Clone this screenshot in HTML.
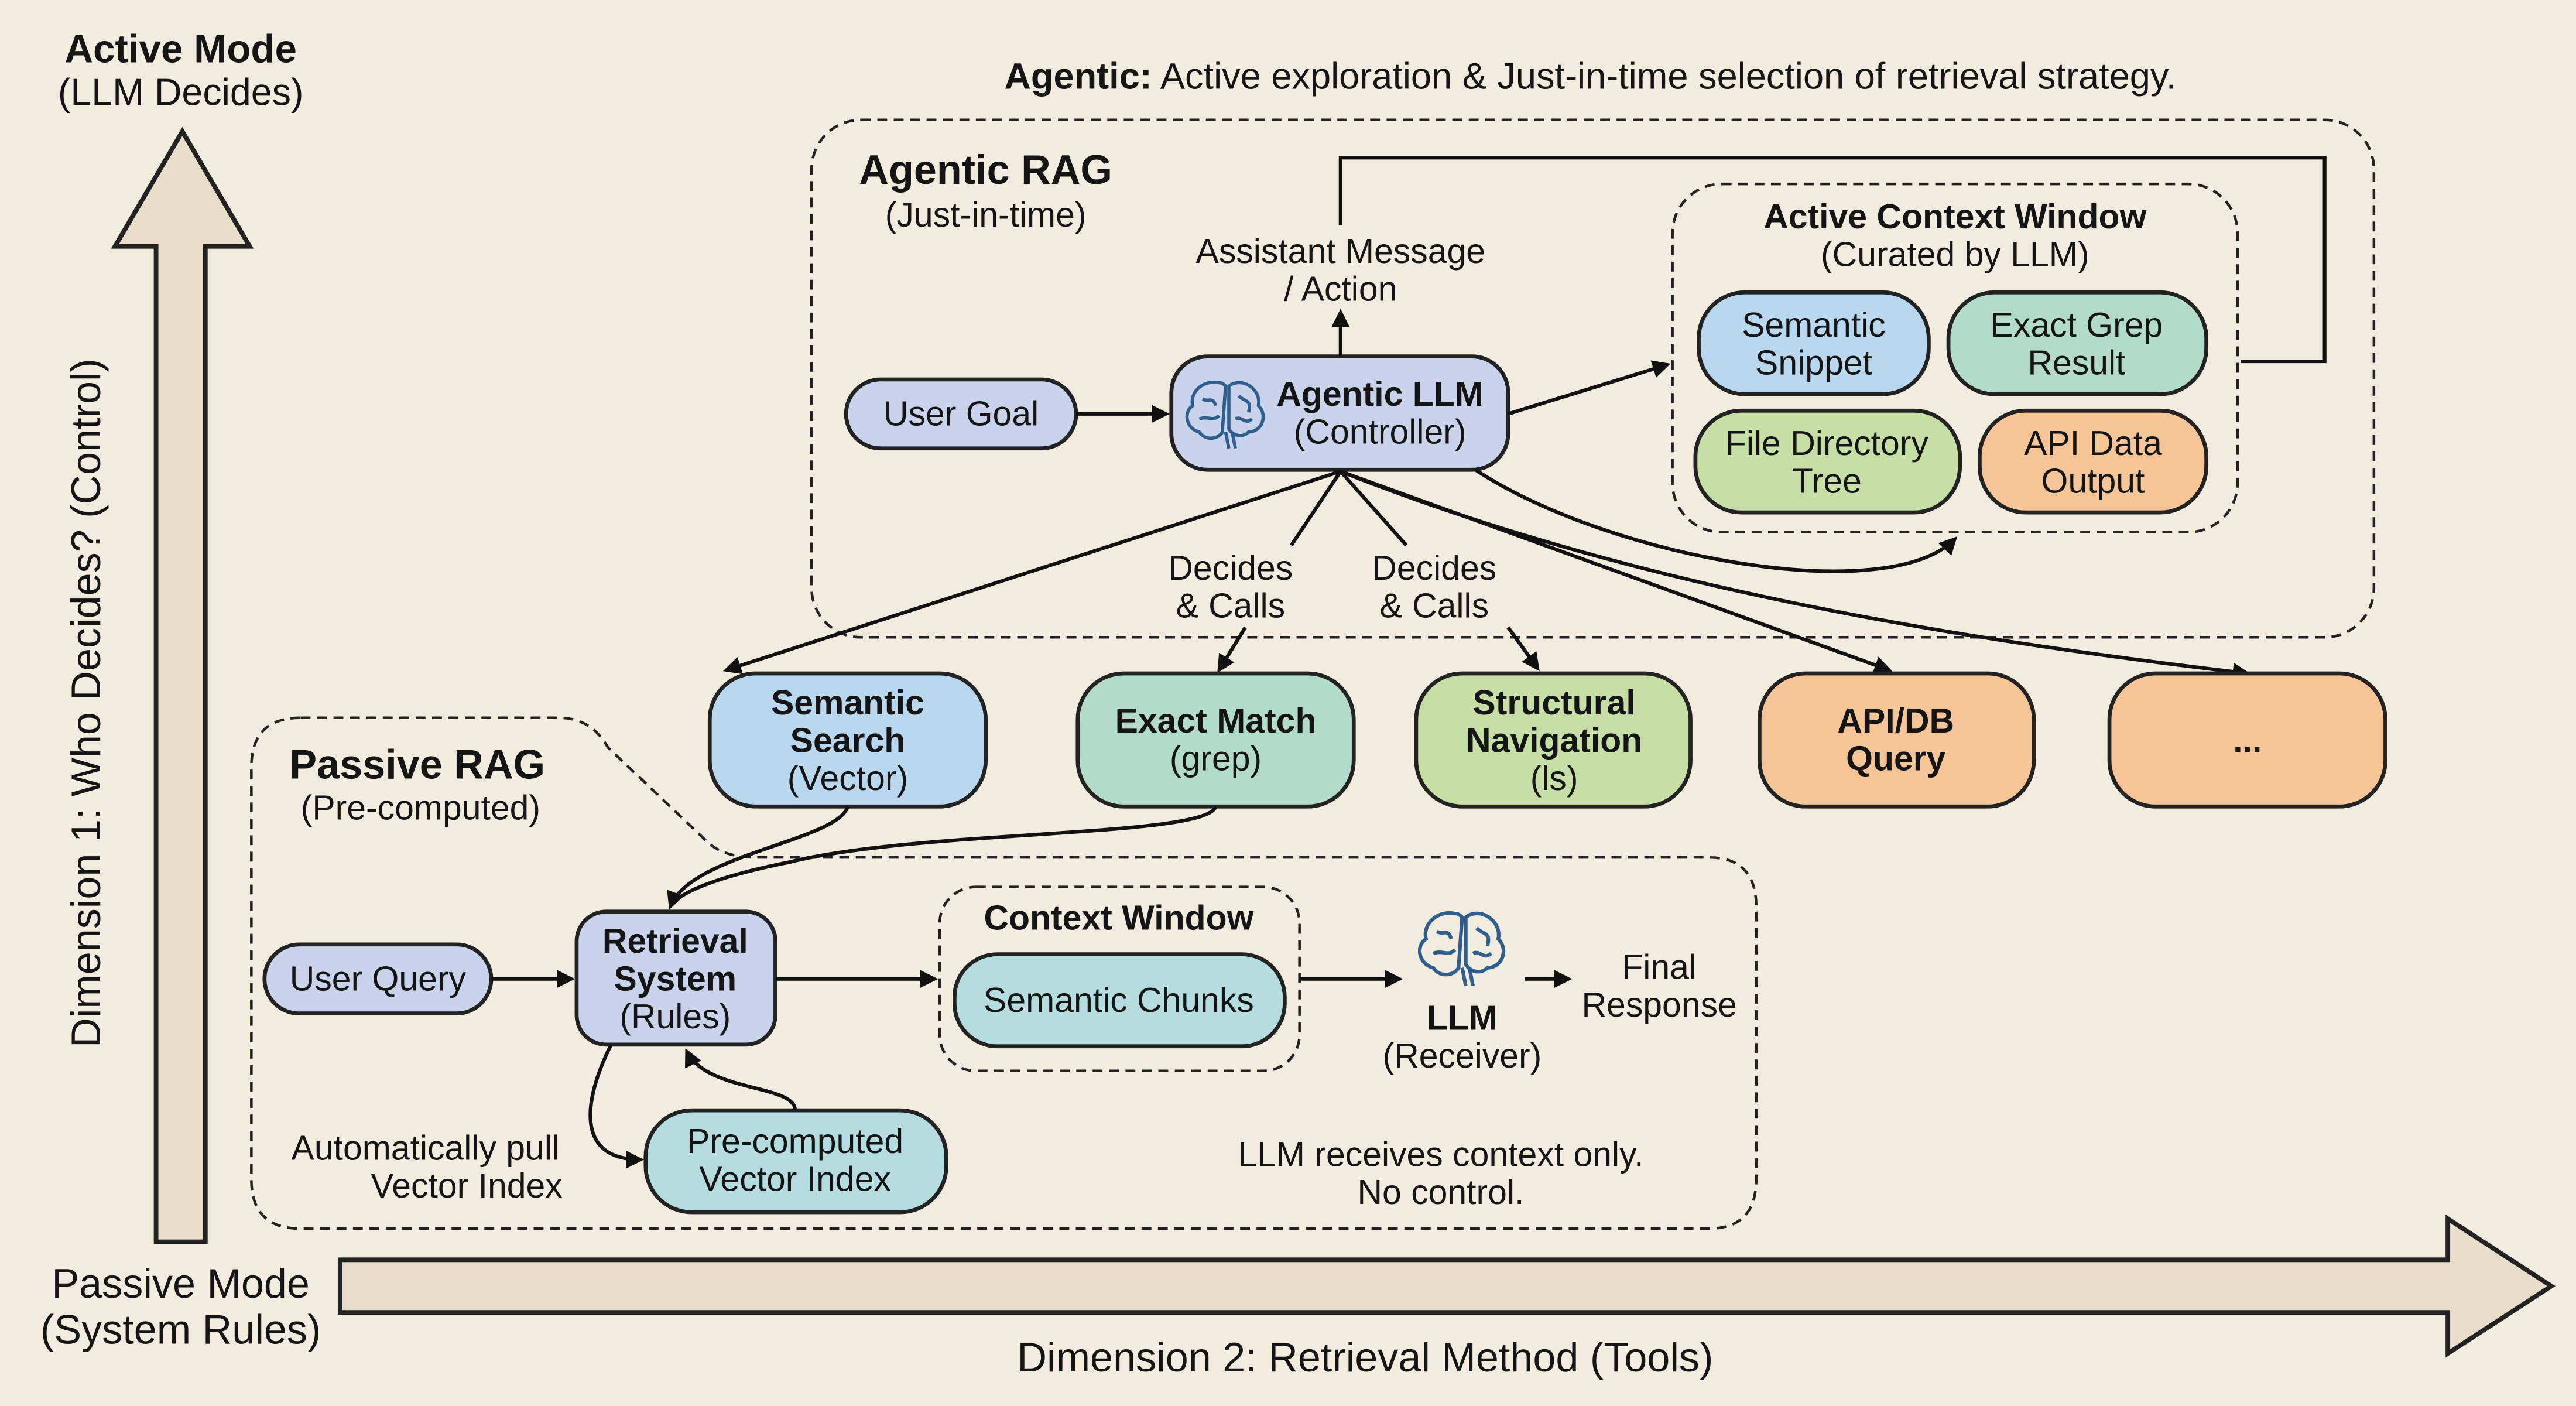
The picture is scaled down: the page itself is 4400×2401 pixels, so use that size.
<!DOCTYPE html>
<html><head><meta charset="utf-8"><style>
html,body{margin:0;padding:0;background:#f2ecde;}
svg{display:block}
text{font-family:"Liberation Sans",Arial,sans-serif;fill:#151515;text-anchor:middle}
.b{font-weight:bold}
.n{stroke:#222;stroke-width:2.4}
.d{fill:none;stroke:#222;stroke-width:1.6;stroke-dasharray:6 4}
.l{fill:none;stroke:#111;stroke-width:2.2}
</style></head><body>
<svg width="4400" height="2401" viewBox="0 0 1568 856" preserveAspectRatio="none" xmlns="http://www.w3.org/2000/svg">
<defs>
<marker id="a" markerWidth="11" markerHeight="11" refX="9" refY="5.5" orient="auto" markerUnits="userSpaceOnUse"><path d="M0,0 L11,5.5 L0,11 z" fill="#111"/></marker>
<g id="brain" fill="none" stroke="#2f5f8f" stroke-width="2">
<path d="M-4,-18 C-14,-20 -22,-12 -20,-4 C-26,0 -24,10 -16,12 C-12,18 -4,16 -2,12 L0,-16 C-2,-18 -3,-18 -4,-18 z"/>
<path d="M2,-16 C10,-22 22,-14 20,-4 C26,2 22,12 14,12 C10,16 4,14 2,10 z"/>
<path d="M0,12 L2,22 M4,12 L6,22"/>
<path d="M-14,-8 C-10,-6 -8,-10 -6,-4 M-16,4 C-10,2 -8,6 -4,2 M8,-10 C12,-6 16,-8 14,0 M6,4 C10,2 12,8 16,4"/>
</g>
</defs>
<rect width="1568" height="856" fill="#f2ecde"/>

<!-- axes -->
<path d="M95,756 L95,150 L70,150 L111,80 L152,150 L125,150 L125,756 z" fill="#e6dec8" stroke="#222" stroke-width="2.8"/>
<path d="M207,767 L1490,767 L1490,742 L1553,783 L1490,824 L1490,799 L207,799 z" fill="#e6dec8" stroke="#222" stroke-width="2.8"/>
<text x="110" y="38" class="b" font-size="24">Active Mode</text>
<text x="110" y="64" font-size="23">(LLM Decides)</text>
<text x="110" y="790" font-size="25">Passive Mode</text>
<text x="110" y="818" font-size="25">(System Rules)</text>
<text x="831" y="835" font-size="25">Dimension 2: Retrieval Method (Tools)</text>
<text transform="translate(61,428) rotate(-90)" font-size="25">Dimension 1: Who Decides? (Control)</text>
<text x="968" y="54" font-size="22.5"><tspan class="b">Agentic:</tspan> Active exploration &amp; Just-in-time selection of retrieval strategy.</text>

<!-- agentic box -->
<rect x="494" y="73" width="951" height="315" rx="30" class="d"/>
<text x="600" y="112" class="b" font-size="25">Agentic RAG</text>
<text x="600" y="138" font-size="21">(Just-in-time)</text>
<rect x="1018" y="112" width="344" height="212" rx="30" class="d"/>
<text x="1190" y="139" class="b" font-size="21">Active Context Window</text>
<text x="1190" y="162" font-size="21">(Curated by LLM)</text>
<rect x="1034" y="178" width="140" height="62" rx="28" fill="#b9d7ef" class="n"/>
<text x="1104" y="205" font-size="21">Semantic</text><text x="1104" y="228" font-size="21">Snippet</text>
<rect x="1186" y="178" width="157" height="62" rx="28" fill="#b3dbc9" class="n"/>
<text x="1264" y="205" font-size="21">Exact Grep</text><text x="1264" y="228" font-size="21">Result</text>
<rect x="1032" y="250" width="161" height="62" rx="28" fill="#c6dfa6" class="n"/>
<text x="1112" y="277" font-size="21">File Directory</text><text x="1112" y="300" font-size="21">Tree</text>
<rect x="1205" y="250" width="138" height="62" rx="28" fill="#f6c597" class="n"/>
<text x="1274" y="277" font-size="21">API Data</text><text x="1274" y="300" font-size="21">Output</text>

<rect x="515" y="231" width="140" height="42" rx="21" fill="#c9d4ec" class="n"/>
<text x="585" y="259" font-size="21">User Goal</text>
<rect x="713" y="217" width="205" height="69" rx="22" fill="#c9d4ec" class="n"/>
<use href="#brain" transform="translate(746,251)"/>
<text x="840" y="247" class="b" font-size="21">Agentic LLM</text>
<text x="840" y="270" font-size="21">(Controller)</text>
<text x="816" y="160" font-size="21">Assistant Message</text>
<text x="816" y="183" font-size="21">/ Action</text>

<!-- agentic connectors -->
<path d="M655,252 L710,252" class="l" marker-end="url(#a)"/>
<path d="M816,217 L816,190" class="l" marker-end="url(#a)"/>
<path d="M918,252 L1015,222" class="l" marker-end="url(#a)"/>
<path d="M816,137 L816,96 L1415,96 L1415,220 L1364,220" class="l"/>
<path d="M816,287 L442,408" class="l" marker-end="url(#a)"/>
<path d="M816,287 L786,332" class="l"/>
<path d="M758,382 L742,408" class="l" marker-end="url(#a)"/>
<path d="M816,287 L856,332" class="l"/>
<path d="M918,382 L936,407" class="l" marker-end="url(#a)"/>
<path d="M816,287 L1150,408" class="l" marker-end="url(#a)"/>
<path d="M816,287 C1000,360 1200,390 1368,410" class="l" marker-end="url(#a)"/>
<path d="M898,286 C980,340 1150,370 1190,328" class="l" marker-end="url(#a)"/>
<text x="749" y="353" font-size="21">Decides</text><text x="749" y="376" font-size="21">&amp; Calls</text>
<text x="873" y="353" font-size="21">Decides</text><text x="873" y="376" font-size="21">&amp; Calls</text>

<!-- tools -->
<rect x="432" y="410" width="168" height="81" rx="28" fill="#b9d7ef" class="n"/>
<text x="516" y="435" class="b" font-size="21">Semantic</text><text x="516" y="458" class="b" font-size="21">Search</text><text x="516" y="481" font-size="21">(Vector)</text>
<rect x="656" y="410" width="168" height="81" rx="28" fill="#b3dbc9" class="n"/>
<text x="740" y="446" class="b" font-size="21">Exact Match</text><text x="740" y="469" font-size="21">(grep)</text>
<rect x="862" y="410" width="167" height="81" rx="28" fill="#c6dfa6" class="n"/>
<text x="946" y="435" class="b" font-size="21">Structural</text><text x="946" y="458" class="b" font-size="21">Navigation</text><text x="946" y="481" font-size="21">(ls)</text>
<rect x="1071" y="410" width="167" height="81" rx="28" fill="#f6c597" class="n"/>
<text x="1154" y="446" class="b" font-size="21">API/DB</text><text x="1154" y="469" class="b" font-size="21">Query</text>
<rect x="1284" y="410" width="168" height="81" rx="28" fill="#f6c597" class="n"/>
<text x="1368" y="458" class="b" font-size="21">...</text>

<!-- passive box -->
<path d="M183,437 L340,437 Q360,437 370,455 L430,512 Q440,522 460,522 L1040,522 Q1069,522 1069,552 L1069,718 Q1069,748 1040,748 L183,748 Q153,748 153,718 L153,467 Q153,437 183,437 z" class="d"/>
<text x="254" y="474" class="b" font-size="25">Passive RAG</text>
<text x="256" y="499" font-size="21">(Pre-computed)</text>
<rect x="572" y="540" width="219" height="112" rx="22" class="d"/>
<text x="681" y="566" class="b" font-size="21">Context Window</text>
<rect x="581" y="581" width="201" height="56" rx="26" fill="#b5dde0" class="n"/>
<text x="681" y="616" font-size="21">Semantic Chunks</text>
<rect x="161" y="575" width="138" height="42" rx="21" fill="#c9d4ec" class="n"/>
<text x="230" y="603" font-size="21">User Query</text>
<rect x="351" y="555" width="121" height="81" rx="18" fill="#c9d4ec" class="n"/>
<text x="411" y="580" class="b" font-size="21">Retrieval</text><text x="411" y="603" class="b" font-size="21">System</text><text x="411" y="626" font-size="21">(Rules)</text>
<rect x="393" y="676" width="183" height="62" rx="28" fill="#b5dde0" class="n"/>
<text x="484" y="702" font-size="21">Pre-computed</text><text x="484" y="725" font-size="21">Vector Index</text>
<use href="#brain" transform="translate(890,576) scale(1.1)"/>
<text x="890" y="627" class="b" font-size="21">LLM</text>
<text x="890" y="650" font-size="21">(Receiver)</text>
<text x="1010" y="596" font-size="21">Final</text><text x="1010" y="619" font-size="21">Response</text>
<text x="259" y="706" font-size="21">Automatically pull</text><text x="284" y="729" font-size="21">Vector Index</text>
<text x="877" y="710" font-size="21">LLM receives context only.</text><text x="877" y="733" font-size="21">No control.</text>

<!-- passive connectors -->
<path d="M299,596 L348,596" class="l" marker-end="url(#a)"/>
<path d="M472,596 L569,596" class="l" marker-end="url(#a)"/>
<path d="M791,596 L852,596" class="l" marker-end="url(#a)"/>
<path d="M928,596 L955,596" class="l" marker-end="url(#a)"/>
<path d="M516,491 C510,512 420,520 408,552" class="l" marker-end="url(#a)"/>
<path d="M740,491 C735,510 560,505 480,525 C430,535 412,545 408,552" class="l"/>
<path d="M372,636 C355,670 350,706 390,706" class="l" marker-end="url(#a)"/>
<path d="M484,676 C484,660 430,665 418,640" class="l" marker-end="url(#a)"/>
</svg>
</body></html>
